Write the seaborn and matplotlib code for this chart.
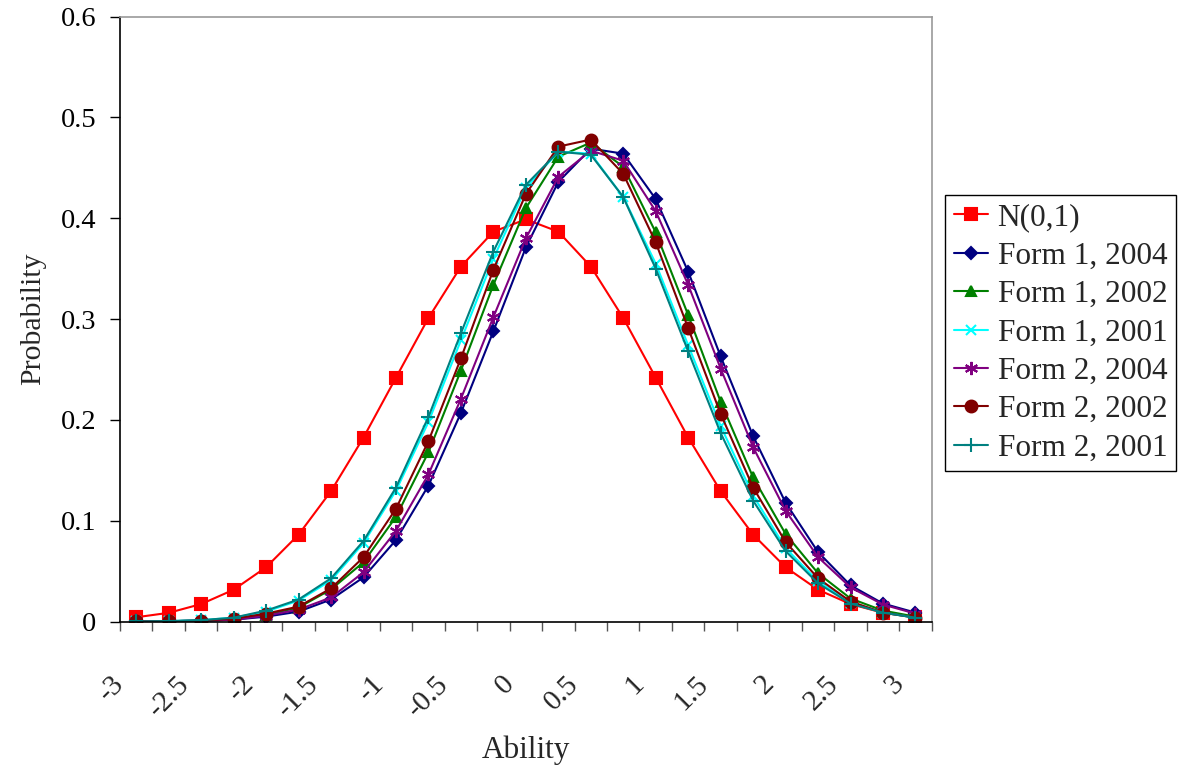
import numpy as np
import pandas as pd
import matplotlib
matplotlib.use("Agg")
import matplotlib.pyplot as plt
import matplotlib.transforms as mtransforms
import seaborn as sns


ability = [-3, -2.75, -2.5, -2.25, -2, -1.75, -1.5, -1.25, -1, -0.75, -0.5, -0.25,
           0, 0.25, 0.5, 0.75, 1, 1.25, 1.5, 1.75, 2, 2.25, 2.5, 2.75, 3]

normal = [0.0044, 0.0088, 0.0175, 0.0317, 0.0540, 0.0863, 0.1295, 0.1826, 0.2420,
          0.3011, 0.3521, 0.3867, 0.3989, 0.3867, 0.3521, 0.3011, 0.2420, 0.1826,
          0.1295, 0.0863, 0.0540, 0.0317, 0.0175, 0.0088, 0.0044]
form1_2004 = [0.0002, 0.0005, 0.001, 0.002, 0.005, 0.010, 0.022, 0.044, 0.081, 0.135,
              0.207, 0.288, 0.371, 0.436, 0.469, 0.464, 0.419, 0.347, 0.263, 0.184,
              0.118, 0.069, 0.036, 0.018, 0.009]
form1_2002 = [0.0002, 0.0005, 0.001, 0.003, 0.007, 0.014, 0.032, 0.059, 0.104, 0.168,
              0.249, 0.334, 0.410, 0.461, 0.475, 0.451, 0.386, 0.304, 0.218, 0.143,
              0.087, 0.048, 0.023, 0.011, 0.005]
form1_2001 = [0.0002, 0.0006, 0.0015, 0.004, 0.010, 0.021, 0.041, 0.078, 0.130, 0.198,
              0.279, 0.360, 0.430, 0.466, 0.464, 0.421, 0.355, 0.274, 0.194, 0.125,
              0.073, 0.040, 0.019, 0.009, 0.004]
form2_2004 = [0.0002, 0.0005, 0.001, 0.002, 0.006, 0.012, 0.024, 0.049, 0.090, 0.146,
              0.221, 0.302, 0.380, 0.441, 0.467, 0.457, 0.407, 0.334, 0.251, 0.173,
              0.110, 0.064, 0.034, 0.017, 0.008]
form2_2002 = [0.0002, 0.0005, 0.001, 0.003, 0.008, 0.015, 0.033, 0.064, 0.112, 0.179,
              0.261, 0.349, 0.424, 0.471, 0.478, 0.444, 0.376, 0.291, 0.206, 0.133,
              0.079, 0.043, 0.020, 0.009, 0.004]
form2_2001 = [0.0002, 0.0006, 0.0015, 0.004, 0.011, 0.022, 0.043, 0.080, 0.133, 0.203,
              0.286, 0.367, 0.433, 0.466, 0.463, 0.421, 0.350, 0.268, 0.187, 0.120,
              0.070, 0.038, 0.018, 0.009, 0.004]

series_names = ["N(0,1)", "Form 1, 2004", "Form 1, 2002", "Form 1, 2001",
                "Form 2, 2004", "Form 2, 2002", "Form 2, 2001"]
series_values = [normal, form1_2004, form1_2002, form1_2001,
                 form2_2004, form2_2002, form2_2001]

x_labels = ["-3", "-2.5", "-2", "-1.5", "-1", "-0.5", "0", "0.5", "1", "1.5", "2", "2.5", "3"]
y_labels = ["0", "0.1", "0.2", "0.3", "0.4", "0.5", "0.6"]

colors = ["#FF0000", "#000080", "#008000", "#00FFFF", "#800080", "#800000", "#008080"]
markers = ["s", "D", "^", "x", (6, 2, 0), "o", "+"]
msizes = [8, 6.5, 7.5, 7.5, 9.5, 8.5, 9.5]


sns.set_style("ticks")
plt.rcParams["font.family"] = ["Liberation Serif", "DejaVu Serif"]
plt.rcParams["font.size"] = 20.5

fig = plt.figure(figsize=(11.89, 7.69), dpi=100)
ax = fig.add_axes([120 / 1189, 1 - 621.7 / 769, 811.7 / 1189, 605.2 / 769])

for name, vals, c, m, ms in zip(series_names, series_values, colors, markers, msizes):
    df = pd.DataFrame({"Ability": ability, "Probability": vals})
    sns.lineplot(data=df, x="Ability", y="Probability", color=c, marker=m,
                 markersize=ms, markeredgecolor=c, markeredgewidth=1.5,
                 linewidth=1.5, label=name, ax=ax)

ax.set_xlim(-3.125, 3.125)
ax.set_ylim(0, 0.6)

ax.set_yticks(np.arange(0, 0.61, 0.1))
ax.set_yticklabels(y_labels)
ax.tick_params(axis="y", direction="out", length=7, width=1, pad=10, colors="black")

ax.set_xticks(np.arange(-3, 3.01, 0.5))
ax.set_xticklabels(x_labels)
ax.set_xticks(np.arange(-3.125, 3.2, 0.25), minor=True)
ax.tick_params(axis="x", which="major", length=0, pad=42, labelsize=21)
ax.tick_params(axis="x", which="minor", direction="out", length=6.5, width=1, color="#555555")
plt.setp(ax.get_xticklabels(), rotation=45, ha="right", va="center", rotation_mode="anchor")
offset = mtransforms.ScaledTranslation(-16 / 100, 0, fig.dpi_scale_trans)
for lab in ax.get_xticklabels():
    lab.set_transform(lab.get_transform() + offset)

for side in ["left", "bottom"]:
    ax.spines[side].set_color("black")
    ax.spines[side].set_linewidth(1.2)
for side in ["top", "right"]:
    ax.spines[side].set_color("#999999")
    ax.spines[side].set_linewidth(1.2)

ax.set_xlabel("Ability", fontsize=22.5)
ax.set_ylabel("Probability", fontsize=21.5)
ax.xaxis.set_label_coords(0.5, -0.188)
ax.yaxis.set_label_coords(-0.091, 0.5)

leg = ax.legend(loc="center left", bbox_to_anchor=(945 / 1189, 1 - 333 / 769),
                bbox_transform=fig.transFigure, frameon=True, fancybox=False,
                framealpha=1, edgecolor="black", handlelength=1.1,
                handletextpad=0.3, labelspacing=0.3, borderpad=0.28,
                borderaxespad=0, fontsize=22.5)
leg.get_frame().set_linewidth(1.0)

fig.savefig("out.png", dpi=100, facecolor="white")
